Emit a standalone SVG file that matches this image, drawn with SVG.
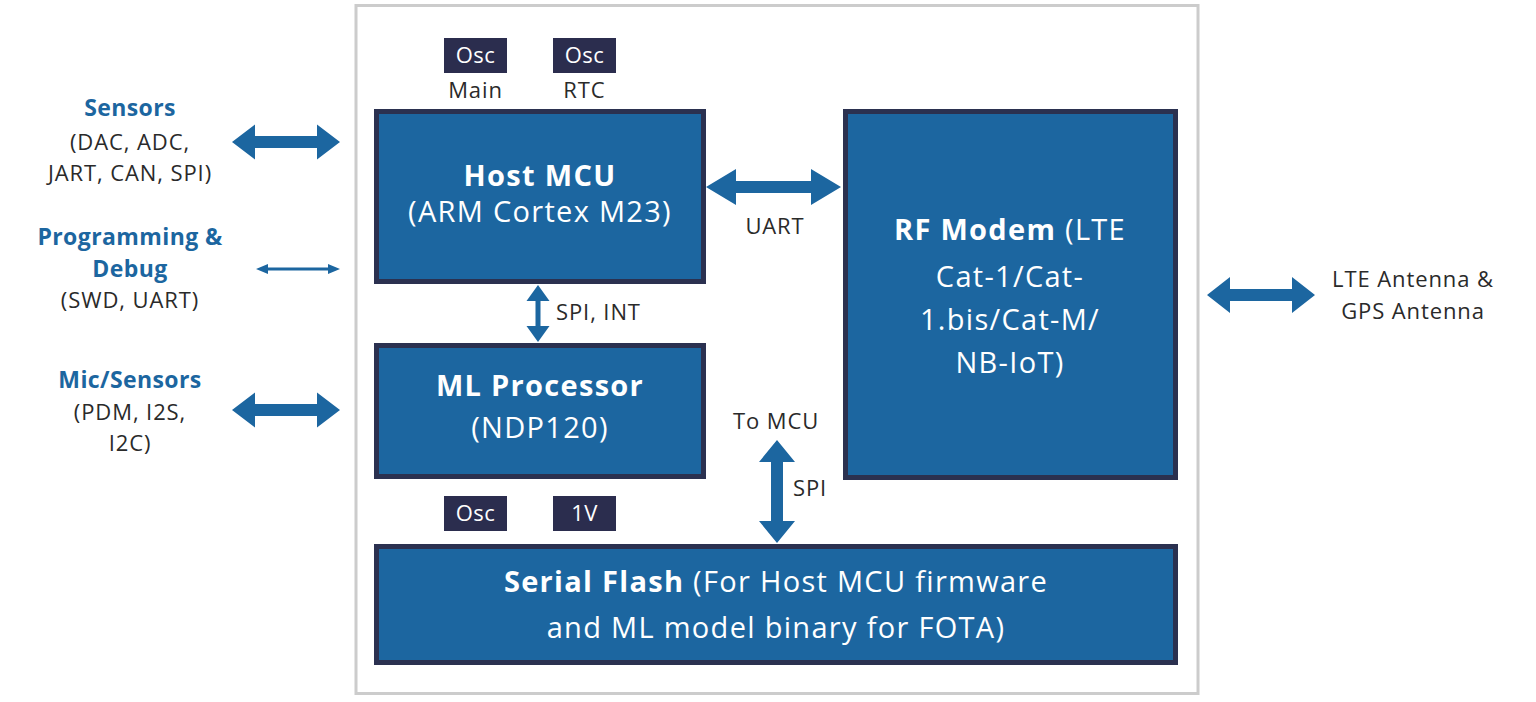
<svg xmlns="http://www.w3.org/2000/svg" width="1536" height="702" viewBox="0 0 1536 702">
<style>
.blk{fill:#1c66a0;stroke:#2b3150;stroke-width:5}
.osc{fill:#2b2d4e}
.arr{fill:#1c66a0}
text{font-family:"Open Sans","Noto Sans","DejaVu Sans",sans-serif}
.w{fill:#ffffff;text-anchor:middle;letter-spacing:1.3px}
.wb{font-weight:700}
.lb{fill:#1c66a0;font-weight:700;font-size:23px;text-anchor:middle;letter-spacing:0.4px}
.g{fill:#2a2a2a;font-size:22px;text-anchor:middle;letter-spacing:0.9px}
</style>
<rect width="1536" height="702" fill="#ffffff"/>
<rect x="356" y="5.5" width="842" height="688" fill="none" stroke="#cccccc" stroke-width="3"/>

<g id="osc-main"><rect class="osc" x="444" y="38" width="63" height="35"/><text class="w" x="475.5" y="63" font-size="22" style="letter-spacing:0.5px">Osc</text><text class="g" x="475.5" y="98">Main</text></g>
<g id="osc-rtc"><rect class="osc" x="553" y="38" width="63" height="35"/><text class="w" x="584.5" y="63" font-size="22" style="letter-spacing:0.5px">Osc</text><text class="g" x="584.5" y="98">RTC</text></g>
<g id="osc-ml"><rect class="osc" x="444" y="496" width="63" height="35"/><text class="w" x="475.5" y="521" font-size="22" style="letter-spacing:0.5px">Osc</text></g>
<g id="v1"><rect class="osc" x="553" y="496" width="63" height="35"/><text class="w" x="584.5" y="521" font-size="22" style="letter-spacing:0.5px">1V</text></g>

<g id="host-mcu"><rect class="blk" x="376.5" y="111.5" width="327" height="170"/>
<text class="w wb" x="540" y="186" font-size="29">Host MCU</text>
<text class="w" x="540" y="222" font-size="29">(ARM Cortex M23)</text></g>

<g id="ml-processor"><rect class="blk" x="376.5" y="345.5" width="327" height="131"/>
<text class="w wb" x="540" y="396" font-size="29">ML Processor</text>
<text class="w" x="540" y="438" font-size="29">(NDP120)</text></g>

<g id="rf-modem"><rect class="blk" x="845.5" y="111.5" width="330" height="366"/>
<text class="w" x="1010" y="240" font-size="29"><tspan class="wb">RF Modem</tspan> (LTE</text>
<text class="w" x="1010" y="287" font-size="29">Cat-1/Cat-</text>
<text class="w" x="1010" y="330" font-size="29">1.bis/Cat-M/</text>
<text class="w" x="1010" y="373" font-size="29">NB-IoT)</text></g>

<g id="serial-flash"><rect class="blk" x="376.5" y="546.5" width="799" height="116"/>
<text class="w" x="776" y="592" font-size="29"><tspan class="wb">Serial Flash</tspan> (For Host MCU firmware</text>
<text class="w" x="776" y="638" font-size="29">and ML model binary for FOTA)</text></g>

<g id="sensors"><text class="lb" x="130" y="116">Sensors</text><text class="g" x="130" y="150">(DAC, ADC,</text><text class="g" x="130" y="181">JART, CAN, SPI)</text></g>
<g id="programming"><text class="lb" x="130" y="245">Programming &amp;</text><text class="lb" x="130" y="277">Debug</text><text class="g" x="130" y="308">(SWD, UART)</text></g>
<g id="mic"><text class="lb" x="130" y="388">Mic/Sensors</text><text class="g" x="130" y="420">(PDM, I2S,</text><text class="g" x="130" y="451">I2C)</text></g>
<g id="antenna"><text class="g" x="1413" y="287">LTE Antenna &amp;</text><text class="g" x="1413" y="319">GPS Antenna</text></g>

<g id="connectors">
<polygon class="arr" points="232,142 255,124.5 255,136 317,136 317,124.5 340,142 317,159.5 317,148 255,148 255,159.5"/>
<polygon class="arr" points="256,269 268,264 268,267.5 328,267.5 328,264 340,269 328,274 328,270.5 268,270.5 268,274"/>
<polygon class="arr" points="232,410 255,392.5 255,404 317,404 317,392.5 340,410 317,427.5 317,416 255,416 255,427.5"/>
<polygon class="arr" points="706,187 736,169 736,181 811,181 811,169 841,187 811,205 811,193 736,193 736,205"/>
<polygon class="arr" points="1207,295 1230,277 1230,289 1292,289 1292,277 1315,295 1292,313 1292,301 1230,301 1230,313"/>
<polygon class="arr" points="538,285 549.5,301 540.5,301 540.5,326 549.5,326 538,342 526.5,326 535.5,326 535.5,301 526.5,301"/>
<polygon class="arr" points="777,440 795,462 783,462 783,521 795,521 777,543 759,521 771,521 771,462 759,462"/>
<text class="g" x="775" y="234">UART</text>
<text class="g" x="556" y="320" style="text-anchor:start">SPI, INT</text>
<text class="g" x="776" y="429">To MCU</text>
<text class="g" x="793" y="496" style="text-anchor:start">SPI</text>
</g>
</svg>
